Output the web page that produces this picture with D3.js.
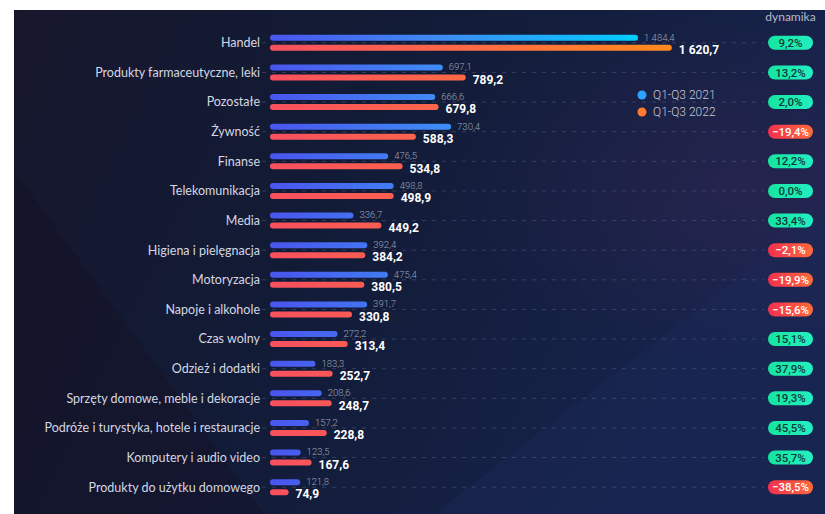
<!DOCTYPE html>
<html>
<head>
<meta charset="utf-8">
<script src="https://cdn.jsdelivr.net/npm/d3@7"></script>
<style>
  html, body { margin: 0; padding: 0; background: #ffffff; }
  svg { display: block; }
</style>
</head>
<body>
<svg id="chart" width="825" height="514"></svg>
<script>
// Categories, top to bottom
const categories = [
  "Handel",
  "Produkty farmaceutyczne, leki",
  "Pozostałe",
  "Żywność",
  "Finanse",
  "Telekomunikacja",
  "Media",
  "Higiena i pielęgnacja",
  "Motoryzacja",
  "Napoje i alkohole",
  "Czas wolny",
  "Odzież i dodatki",
  "Sprzęty domowe, meble i dekoracje",
  "Podróże i turystyka, hotele i restauracje",
  "Komputery i audio video",
  "Produkty do użytku domowego"
];

// Q1-Q3 2021 values
const values2021 = [1484.4, 697.1, 666.6, 730.4, 476.5, 498.8, 336.7, 392.4, 475.4, 391.7, 272.2, 183.3, 208.6, 157.2, 123.5, 121.8];
// Q1-Q3 2022 values
const values2022 = [1620.7, 789.2, 679.8, 588.3, 534.8, 498.9, 449.2, 384.2, 380.5, 330.8, 313.4, 252.7, 248.7, 228.8, 167.6, 74.9];
// Year-over-year change, %
const dynamics = [9.2, 13.2, 2.0, -19.4, 12.2, 0.0, 33.4, -2.1, -19.9, -15.6, 15.1, 37.9, 19.3, 45.5, 35.7, -38.5];

const seriesNames = ["Q1-Q3 2021", "Q1-Q3 2022"];
const dynamicsTitle = "dynamika";

const locale = d3.formatLocale({ decimal: ",", thousands: "\u00a0", grouping: [3], currency: ["", " zł"] });
const fmtValue = locale.format(",.1f");
const fmtPct = locale.format(".1f");

const svg = d3.select("#chart");
const defs = svg.append("defs");

// Panel background
const bg = defs.append("linearGradient").attr("id", "bg").attr("x1", "0").attr("y1", "0").attr("x2", "1").attr("y2", "0.3");
bg.append("stop").attr("offset", "0").attr("stop-color", "#17172c");
bg.append("stop").attr("offset", "0.45").attr("stop-color", "#121b36");
bg.append("stop").attr("offset", "1").attr("stop-color", "#16234c");

const glow = defs.append("radialGradient").attr("id", "glow").attr("cx", "0.9").attr("cy", "0.35").attr("r", "0.35");
glow.append("stop").attr("offset", "0").attr("stop-color", "#4a2a5a").attr("stop-opacity", 0.3);
glow.append("stop").attr("offset", "1").attr("stop-color", "#4a2a5a").attr("stop-opacity", 0);

const panel = { x: 14, y: 10, w: 811, h: 504 };
svg.append("rect").attr("x", panel.x).attr("y", panel.y).attr("width", panel.w).attr("height", panel.h).attr("fill", "url(#bg)");
svg.append("rect").attr("x", panel.x).attr("y", panel.y).attr("width", panel.w).attr("height", panel.h).attr("fill", "url(#glow)");
// faint diagonal facets
svg.append("path")
  .attr("d", `M${panel.x + 420},${panel.y + panel.h} L${panel.x + panel.w},${panel.y + 200} L${panel.x + panel.w},${panel.y + panel.h} Z`)
  .attr("fill", "#1c2a5c").attr("opacity", 0.35);
svg.append("path")
  .attr("d", `M${panel.x},${panel.y + 160} L${panel.x + 250},${panel.y + panel.h} L${panel.x},${panel.y + panel.h} Z`)
  .attr("fill", "#141226").attr("opacity", 0.5);

// Scales
const x = d3.scaleLinear().domain([0, 1700]).range([270, 691.5]);
const y = d3.scaleBand().domain(categories).range([28, 502]);
const barH = 6;
const off = 5;

// Bar gradients across the value axis
const gBlue = defs.append("linearGradient").attr("id", "gBlue").attr("gradientUnits", "userSpaceOnUse")
  .attr("x1", x(0)).attr("x2", x(1484.4)).attr("y1", 0).attr("y2", 0);
gBlue.append("stop").attr("offset", "0").attr("stop-color", "#4a55ee");
gBlue.append("stop").attr("offset", "0.45").attr("stop-color", "#3f8af5");
gBlue.append("stop").attr("offset", "1").attr("stop-color", "#00cdfb");

const gOrange = defs.append("linearGradient").attr("id", "gOrange").attr("gradientUnits", "userSpaceOnUse")
  .attr("x1", x(0)).attr("x2", x(1620.7)).attr("y1", 0).attr("y2", 0);
gOrange.append("stop").attr("offset", "0").attr("stop-color", "#f8505f");
gOrange.append("stop").attr("offset", "0.5").attr("stop-color", "#fd6a45");
gOrange.append("stop").attr("offset", "1").attr("stop-color", "#ff8a1c");

const gGreen = defs.append("linearGradient").attr("id", "gGreen").attr("x1", "0").attr("x2", "1");
gGreen.append("stop").attr("offset", "0").attr("stop-color", "#16e5a0");
gGreen.append("stop").attr("offset", "1").attr("stop-color", "#24eec2");

const gRed = defs.append("linearGradient").attr("id", "gRed").attr("x1", "0").attr("x2", "1");
gRed.append("stop").attr("offset", "0").attr("stop-color", "#f2304e");
gRed.append("stop").attr("offset", "1").attr("stop-color", "#ff6a3c");

const rows = categories.map((c, i) => ({ c, a: values2021[i], b: values2022[i], d: dynamics[i] }));

// Dashed row guides
svg.append("g").selectAll("line").data(rows).join("line")
  .attr("x1", 262).attr("x2", 764)
  .attr("y1", d => y(d.c) + y.bandwidth() / 2)
  .attr("y2", d => y(d.c) + y.bandwidth() / 2)
  .attr("stroke", "#8a93b8").attr("stroke-opacity", 0.28)
  .attr("stroke-width", 1).attr("stroke-dasharray", "4 6");

// Category labels
svg.append("g").selectAll("text").data(rows).join("text")
  .attr("x", 260)
  .attr("y", d => y(d.c) + y.bandwidth() / 2)
  .attr("dy", "0.35em")
  .attr("text-anchor", "end")
  .attr("font-family", "Lato, 'Open Sans', sans-serif")
  .attr("font-size", 12.5)
  .attr("fill", "#d4d7e2")
  .text(d => d.c);

// 2021 bars
svg.append("g").selectAll("rect").data(rows).join("rect")
  .attr("x", x(0))
  .attr("y", d => y(d.c) + y.bandwidth() / 2 - off - barH / 2)
  .attr("width", d => x(d.a) - x(0))
  .attr("height", barH)
  .attr("rx", barH / 2)
  .attr("fill", "url(#gBlue)");

// 2022 bars
svg.append("g").selectAll("rect").data(rows).join("rect")
  .attr("x", x(0))
  .attr("y", d => y(d.c) + y.bandwidth() / 2 + off - barH / 2)
  .attr("width", d => x(d.b) - x(0))
  .attr("height", barH)
  .attr("rx", barH / 2)
  .attr("fill", "url(#gOrange)");

// 2021 value labels
svg.append("g").selectAll("text").data(rows).join("text")
  .attr("x", d => x(d.a) + 6)
  .attr("y", d => y(d.c) + y.bandwidth() / 2 - off - 0.5)
  .attr("dy", "0.35em")
  .attr("font-family", "Roboto, sans-serif")
  .attr("font-weight", 300)
  .attr("font-size", 9.5)
  .attr("fill", "#9ea4b6")
  .text(d => fmtValue(d.a));

// 2022 value labels
svg.append("g").selectAll("text").data(rows).join("text")
  .attr("x", d => x(d.b) + 7)
  .attr("y", d => y(d.c) + y.bandwidth() / 2 + off + 2)
  .attr("dy", "0.35em")
  .attr("font-family", "Roboto, sans-serif")
  .attr("font-weight", 700)
  .attr("font-size", 12)
  .attr("fill", "#ffffff")
  .text(d => fmtValue(d.b));

// Dynamics pills
const pillW = 45, pillH = 14, pillX = 768;
const pills = svg.append("g").selectAll("g").data(rows).join("g")
  .attr("transform", d => `translate(${pillX},${y(d.c) + y.bandwidth() / 2})`);
pills.append("rect")
  .attr("x", 0).attr("y", -pillH / 2)
  .attr("width", pillW).attr("height", pillH)
  .attr("rx", pillH / 2)
  .attr("fill", d => d.d < 0 ? "url(#gRed)" : "url(#gGreen)");
pills.append("text")
  .attr("x", pillW / 2).attr("y", 0).attr("dy", "0.36em")
  .attr("text-anchor", "middle")
  .attr("font-family", "Roboto, sans-serif")
  .attr("font-weight", 500)
  .attr("font-size", 11.5)
  .attr("fill", d => d.d < 0 ? "#ffffff" : "#0f3a36")
  .text(d => fmtPct(d.d) + "%");

// Column header
svg.append("text")
  .attr("x", pillX + pillW / 2).attr("y", 21)
  .attr("text-anchor", "middle")
  .attr("font-family", "Lato, sans-serif")
  .attr("font-size", 12)
  .attr("fill", "#b4b9c8")
  .text(dynamicsTitle);

// Legend
const legendColors = ["#2aa4ff", "#ff7a2e"];
const legend = svg.append("g").selectAll("g").data(seriesNames).join("g")
  .attr("transform", (d, i) => `translate(642,${95 + i * 17})`);
legend.append("circle").attr("r", 4.5).attr("fill", (d, i) => legendColors[i]);
legend.append("text")
  .attr("x", 11).attr("dy", "0.35em")
  .attr("font-family", "Roboto, sans-serif")
  .attr("font-weight", 300)
  .attr("font-size", 12)
  .attr("fill", "#c4c8d4")
  .text(d => d);
</script>
</body>
</html>
